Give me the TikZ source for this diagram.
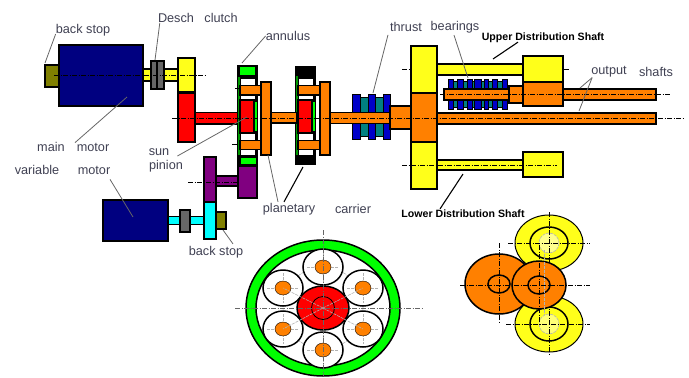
\documentclass[tikz,border=0pt]{standalone}
\usepackage{fontspec}
\setmainfont{Liberation Sans}
\definecolor{navyc}{HTML}{000080}
\definecolor{olivec}{HTML}{808000}
\definecolor{yel}{HTML}{FFFF1A}
\definecolor{org}{HTML}{FF8000}
\definecolor{grn}{HTML}{00FF00}
\definecolor{pur}{HTML}{800080}
\definecolor{cya}{HTML}{00FFFF}
\definecolor{gry}{HTML}{666666}
\definecolor{blu}{HTML}{0000C8}
\definecolor{tea}{HTML}{008080}
\definecolor{labelc}{HTML}{3F4052}
\tikzset{
  part/.style={draw=black,line width=1.3pt},
  thin part/.style={draw=black,line width=.4pt},
  centre/.style={draw=black,line width=.6pt,dash pattern=on 5pt off 1.5pt on 1pt off 1.5pt},
  greyc/.style={draw=gray!60,line width=.6pt,dash pattern=on 3pt off 1pt},
  lab/.style={font=\fontsize{12.7}{14}\selectfont,text=labelc,inner sep=0pt},
  blab/.style={font=\fontsize{10.6}{12}\selectfont\bfseries,text=black,inner sep=0pt},
  leader/.style={draw=gray!80!black,line width=.8pt},
  bleader/.style={draw=black,line width=1.1pt},
  ring/.style={draw=black,line width=1.5pt}
}
\newcommand{\bx}[3]{\path[part,fill=#1] #2 rectangle #3;}
\begin{document}
\begin{tikzpicture}[x=1pt,y=-1pt]
\useasboundingbox (0,0) rectangle (689,378);
% main motor line
\bx{olivec}{(45,65)}{(59,87)}
\bx{navyc}{(59,45)}{(143,106)}
\bx{yel}{(143,69)}{(178,81)}
\bx{gry}{(151,61)}{(157,89)}
\bx{gry}{(157,61)}{(164,89)}
\bx{yel}{(178,58)}{(195,92)}
\bx{red}{(178,93)}{(195,142)}
\bx{red}{(195,112.5)}{(239,124)}
\draw[centre] (54,75) -- (205,75);
% first epicyclic
\fill[black] (237,65) rectangle (258,166);
\path[fill=green!60!black] (238,77) rectangle (240,155);
\path[fill=white] (241,79) rectangle (255,86);
\path[fill=white] (241,94) rectangle (255,100);
\path[fill=white] (241,134) rectangle (255,141);
\path[fill=white] (241,149) rectangle (255,155);
\bx{grn}{(239,66)}{(256,76)}
\bx{grn}{(240,157)}{(257,165)}
\bx{red}{(240,100)}{(254,133)}
\path[fill=grn] (255,102) rectangle (257,131);
\bx{org}{(240,85.5)}{(261,95)}
\bx{org}{(240,140.5)}{(261,149.5)}
\bx{org}{(261,82)}{(271,155)}
% second epicyclic
\fill[black] (295,66) rectangle (316,165);
\path[fill=green!60!black] (296,76) rectangle (298,155);
\path[fill=white] (299,79) rectangle (313,86);
\path[fill=white] (299,94) rectangle (313,100);
\path[fill=white] (299,134) rectangle (313,141);
\path[fill=white] (299,149) rectangle (313,155);
\bx{red}{(298,100)}{(312,133)}
\path[fill=grn] (313,102) rectangle (315,131);
\bx{org}{(298,85.5)}{(320,95)}
\bx{org}{(298,140.5)}{(320,149.5)}
\bx{org}{(320,82)}{(330,155)}
\bx{org}{(271,112.5)}{(297,123)}
% thrust bearings
\foreach \a/\b in {360/368,375/383}{
  \path[thin part,fill=tea] (\a,97) rectangle (\b,136);}
\foreach \a/\b in {352/360,368/375,383/390}{
  \path[thin part,fill=blu] (\a,94) rectangle (\b,139);}
\bx{org}{(330,112.5)}{(390,123.5)}
\bx{org}{(390,106)}{(411,129)}
% upper centre line stays behind the gears
\draw[centre] (402,69) -- (570,69);
% output gears
\bx{yel}{(411,46)}{(437,93)}
\bx{org}{(411,93)}{(437,142)}
\bx{yel}{(411,142)}{(437,189)}
\bx{yel}{(437,64)}{(523,75)}
\bx{yel}{(523,56)}{(563,82)}
\bx{org}{(523,82)}{(563,106)}
\bx{org}{(509,86)}{(523,103)}
% hollow shaft bearings
\path[thin part,fill=tea] (453,81) rectangle (502,107);
\foreach \a/\b in {448/453,457/463,467/472,474/481,484/488,492/497,502/507}{
  \path[thin part,fill=blu] (\a,79) rectangle (\b,109);}
\bx{org}{(444,89)}{(509,100)}
\bx{org}{(563,89)}{(656,100)}
\bx{org}{(437,113)}{(656,124)}
\bx{yel}{(437,160)}{(523,170)}
\bx{yel}{(523,152)}{(563,177)}
% purple / cyan train
\bx{pur}{(238,166)}{(257,198)}
\bx{pur}{(216,176)}{(238,186)}
\bx{pur}{(204,157)}{(216,202)}
\bx{cya}{(204,202)}{(216,239)}
\bx{olivec}{(216,212)}{(226,229)}
\bx{navyc}{(103,200)}{(168,241)}
\bx{cya}{(168,216.5)}{(204,224.5)}
\bx{gry}{(180,210)}{(190,232)}
% centre lines
\draw[centre] (172,118) -- (685,118);
\draw[centre] (188,182) -- (238,182);
\draw[centre] (440,94) -- (670,94);
\draw[centre] (402,165) -- (557,165);
\draw[centre] (235,88) -- (240,88);
\draw[centre] (232,144) -- (240,144);
% end view: planetary
\coordinate (pc) at (323,308);
\draw[ring,fill=grn,even odd rule] (pc) ellipse [x radius=77,y radius=68] (pc) ellipse [x radius=67,y radius=58];
\draw[greyc] (pc) ellipse [x radius=40,y radius=41];
\foreach \px/\py in {323/267,323/350,283/288,363/288,283/329,363/329}{
  \draw[ring,fill=white] (\px,\py) ellipse [x radius=20,y radius=18];
  \draw[greyc] (\px-16,\py) -- (\px+16,\py) (\px,\py-15) -- (\px,\py+15);
  \draw[thin part,fill=org] (\px,\py) ellipse [x radius=8,y radius=7];
}
\draw[ring,fill=red] (pc) ellipse [x radius=26,y radius=22];
\draw[thin part,line width=.8pt] (pc) circle [radius=11.5];
\draw[centre,draw=gray!80!black] (235,308) -- (424,308);
\draw[centre,draw=gray!80!black] (323,230) -- (323,376);
\foreach \px/\py in {283/288,363/288,283/329,363/329}{
  \draw[greyc] (pc) -- (\px,\py);
}
% end view: gears
\coordinate (gt) at (549,243);
\coordinate (gb) at (549,324);
\coordinate (gl) at (499,284);
\coordinate (gr) at (539,285);
\draw[draw=black,line width=1pt,fill=yel] (gt) ellipse [x radius=34,y radius=28];
\draw[ring] (gt) ellipse [x radius=19,y radius=16];
\draw[greyc,fill=yel!50] (gt) circle [radius=10];
\draw[draw=black,line width=1pt,fill=yel] (gb) ellipse [x radius=34,y radius=28];
\draw[ring] (gb) ellipse [x radius=19,y radius=17];
\draw[greyc,fill=yel!60] (gb) circle [radius=10];
\draw[centre] (508,243) -- (590,243);
\draw[centre] (506,324) -- (590,324);
\draw[centre] (549,212) -- (549,354);
\draw[ring,fill=org] (gl) ellipse [x radius=34,y radius=30];
\draw[ring] (gl) ellipse [x radius=11,y radius=9];
\draw[ring,fill=org] (gr) ellipse [x radius=27,y radius=24];
\draw[ring] (gr) ellipse [x radius=11,y radius=9];
\draw[centre] (460,285) -- (590,285);
\draw[centre] (499,243) -- (499,322);
\draw[centre] (539,245) -- (539,325);
\draw[greyc] (544,250) -- (544,315);
% labels
\node[lab] (backa) at (83,30) {back stop};
\node[lab] (desch) at (176,18) {Desch};
\node[lab] (clutch) at (221,18) {clutch};
\node[lab] (annulus) at (288,36) {annulus};
\node[lab] (main) at (51,147) {main};
\node[lab] (motora) at (93,147) {motor};
\node[lab] (variable) at (37,170) {variable};
\node[lab] (motorb) at (94,170) {motor};
\node[lab] (sun) at (159,152) {sun};
\node[lab] (pinion) at (166,166) {pinion};
\node[lab] (planetary) at (289,209) {planetary};
\node[lab] (carrier) at (353,209) {carrier};
\node[lab] (backb) at (216,252) {back stop};
\node[lab] (thrust) at (406,27) {thrust};
\node[lab] (bearings) at (455,27) {bearings};
\node[blab] (upper) at (543,38) {Upper Distribution Shaft};
\node[blab] (lower) at (463,214) {Lower Distribution Shaft};
\node[lab] (output) at (609,72) {output};
\node[lab] (shafts) at (656,72) {shafts};
% leaders
\coordinate (e1) at (45,63);
\coordinate (e2) at (155,60);
\coordinate (e3) at (242,63);
\coordinate (e4) at (127,97);
\coordinate (e5) at (247,117);
\coordinate (e6) at (133,217);
\coordinate (e7) at (223,230);
\coordinate (e8) at (268,155);
\coordinate (e9) at (303,167);
\coordinate (e10) at (373,93);
\coordinate (e11) at (468,78);
\coordinate (e12) at (493,59);
\coordinate (e13) at (463,174);
\coordinate (e14) at (580,88);
\coordinate (e15) at (579,111);
\draw[leader] (backa.south west) ++(0,-2) -- (e1);
\draw[leader] (desch.south west) ++(2,0) -- (e2);
\draw[leader] (annulus.west) -- (e3);
\draw[leader] (motora.north) ++(-18,0) -- (e4);
\draw[leader] (sun.east) ++(8,4) -- (e5);
\draw[leader] (motorb.south) ++(16,5) -- (e6);
\draw[leader] (backb.north) ++(17,-2) -- (e7);
\draw[leader] (planetary.north) ++(-11,-1) -- (e8);
\draw[bleader] (planetary.north) ++(-5,-1) -- (e9);
\draw[leader] (thrust.south) ++(-18,3) -- (e10);
\draw[leader] (bearings.south) ++(-1,2) -- (e11);
\draw[bleader] (upper.south) ++(-25,-1) -- (e12);
\draw[bleader] (lower.north) ++(-23,-1) -- (e13);
\draw[leader] (output.south west) ++(1,0) -- (e14);
\draw[leader] (output.south west) ++(1,0) -- (e15);
\end{tikzpicture}
\end{document}
